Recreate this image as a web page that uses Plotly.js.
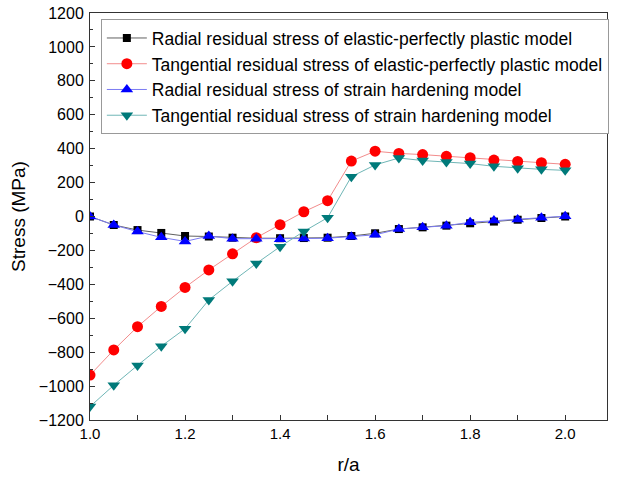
<!DOCTYPE html>
<html>
<head>
<meta charset="utf-8">
<script src="https://cdn.plot.ly/plotly-3.0.1.min.js"></script>
<style>html,body{margin:0;padding:0;background:#fff;}#chart{width:621px;height:479px;}</style>
</head>
<body>
<div id="chart"></div>
<script>
const rA = [1.0,1.05,1.1,1.15,1.2,1.25,1.3,1.35,1.4,1.45,1.5,1.55,1.6,1.65,1.7,1.75,1.8,1.85,1.9,1.95,2.0];
const radialEPP = [0,-50,-80,-97,-115,-118,-125,-128,-128,-127,-125,-115,-99,-74,-64,-54,-40,-30,-19,-9,0];
const tangEPP = [-935,-787,-650,-530,-418,-315,-220,-125,-48,28,93,327,385,372,365,355,347,333,325,317,308];
const radialSH = [0,-50,-89,-123,-147,-115,-131,-131,-134,-130,-128,-120,-108,-74,-64,-54,-34,-24,-17,-7,2];
const tangSH = [-1121,-995,-878,-765,-662,-492,-382,-277,-178,-88,-7,235,304,345,330,322,312,296,285,278,272];
const names = [
  'Radial residual stress of elastic-perfectly plastic model',
  'Tangential residual stress of elastic-perfectly plastic model',
  'Radial residual stress of strain hardening model',
  'Tangential residual stress of strain hardening model'
];
const series = [radialEPP, tangEPP, radialSH, tangSH];
const markerColors = ['#000000', '#ff0000', '#0000ff', '#007a7a'];
const lineColors = ['#606060', '#f28c8c', '#7c7cf2', '#6fb6b6'];
const symbols = ['square', 'circle', 'triangle-up', 'triangle-down'];
const sizes = [8, 11, 11, 11];

const traces = series.map((ys, i) => ({
  x: rA, y: ys, name: names[i], type: 'scatter', mode: 'lines+markers',
  line: {color: lineColors[i], width: 1},
  marker: {color: markerColors[i], symbol: symbols[i], size: sizes[i], line: {width: 0}}
}));

const layout = {
  width: 621, height: 479,
  margin: {l: 90, r: 14, t: 13, b: 59},
  paper_bgcolor: '#fff', plot_bgcolor: '#fff',
  font: {family: '"Liberation Sans", Arial, sans-serif', color: '#000'},
  showlegend: true,
  legend: {x: 0.021, y: 0.985, xanchor: 'left', yanchor: 'top',
    bordercolor: '#999', borderwidth: 1, bgcolor: '#fff',
    font: {size: 17.5}, tracegroupgap: 0, itemwidth: 40},
  xaxis: {
    range: [1.0, 2.088], tickvals: [1.0,1.2,1.4,1.6,1.8,2.0], ticktext: ['1.0','1.2','1.4','1.6','1.8','2.0'],
    ticks: 'inside', ticklen: 5, tickcolor: '#333', showline: true, linecolor: '#333', linewidth: 1, mirror: true,
    showgrid: false, zeroline: false, tickfont: {size: 15},
    minor: {dtick: 0.1, tick0: 1.0, ticks: 'inside', ticklen: 5, tickcolor: '#333', showgrid: false},
    title: {text: 'r/a', font: {size: 19}, standoff: 16}
  },
  yaxis: {
    range: [-1200, 1200], dtick: 200, tick0: 0,
    ticks: 'inside', ticklen: 5, tickcolor: '#333', showline: true, linecolor: '#333', linewidth: 1, mirror: true,
    showgrid: false, zeroline: false, tickfont: {size: 16}, ticklabelstandoff: 2,
    minor: {dtick: 100, ticks: 'inside', ticklen: 3, tickcolor: '#333', showgrid: false},
    title: {text: 'Stress (MPa)', font: {size: 19}, standoff: 8}
  }
};
Plotly.newPlot('chart', traces, layout, {displayModeBar: false, staticPlot: true});
</script>
</body>
</html>
